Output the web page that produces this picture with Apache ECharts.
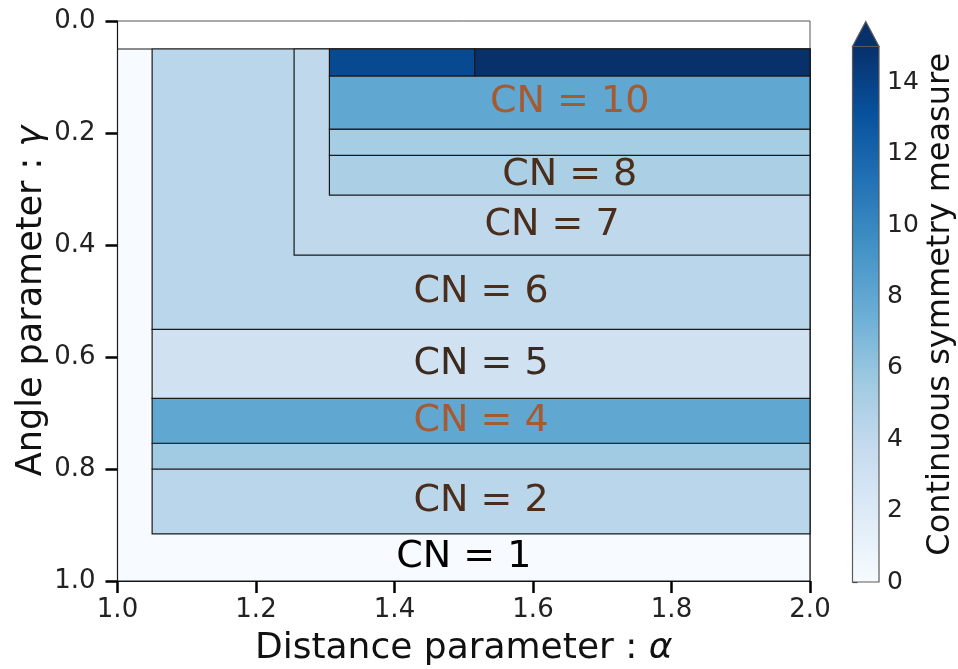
<!DOCTYPE html>
<html>
<head>
<meta charset="utf-8">
<script src="https://cdn.jsdelivr.net/npm/echarts@6/dist/echarts.min.js"></script>
<style>
  html, body { margin: 0; padding: 0; background: #ffffff; }
  #chart { width: 958px; height: 669px; }
</style>
</head>
<body>
<div id="chart"></div>
<script>
// ---- Data ----
const regionNames = ['CN = 1', 'CN = 2', 'CN = 3', 'CN = 4', 'CN = 5', 'CN = 6', 'CN = 7', 'CN = 8', 'CN = 9', 'CN = 10', 'CN = 11', 'CN = 12'];
const alphaMin = [1.0, 1.05, 1.05, 1.05, 1.05, 1.05, 1.255, 1.306, 1.306, 1.306, 1.306, 1.516];
const alphaMax = [2.0, 2.0, 2.0, 2.0, 2.0, 2.0, 2.0, 2.0, 2.0, 2.0, 1.516, 2.0];
const gammaMin = [0.05, 0.80, 0.754, 0.674, 0.5505, 0.05, 0.05, 0.24, 0.193, 0.098, 0.05, 0.05];
const gammaMax = [1.0, 0.916, 0.80, 0.754, 0.674, 0.5505, 0.418, 0.311, 0.24, 0.193, 0.098, 0.098];
const csmValue = [0.0, 4.3, 5.5, 8.0, 3.0, 4.3, 4.1, 5.0, 5.3, 8.0, 13.5, 15.0];
// label anchor (gamma centre of the visible band); null = no label
const labelGamma = [0.958, 0.858, null, 0.714, 0.612, 0.484, 0.3645, 0.2755, null, 0.145, null, null];

const alphaTicks = [1.0, 1.2, 1.4, 1.6, 1.8, 2.0];
const gammaTicks = [0.0, 0.2, 0.4, 0.6, 0.8, 1.0];
const cbarTicks = [0, 2, 4, 6, 8, 10, 12, 14];
const cbarMin = 0, cbarMax = 15;

// ---- Styles ----
const BLUES = ['#f7fbff', '#deebf7', '#c6dbef', '#9ecae1', '#6baed6', '#4292c6', '#2171b5', '#08519c', '#08306b'];
const labelColor = {
  'CN = 1': '#000000', 'CN = 2': '#4a2d1a', 'CN = 4': '#a65a30', 'CN = 5': '#3b2a1e',
  'CN = 6': '#4a2d1a', 'CN = 7': '#4a2d1a', 'CN = 8': '#4a2d1a', 'CN = 10': '#a65a30'
};
const FONT = 'DejaVu Sans';

const regionData = regionNames.map((n, i) => [alphaMin[i], alphaMax[i], gammaMin[i], gammaMax[i], csmValue[i], i]);
const labelData = [];
regionNames.forEach((n, i) => {
  if (labelGamma[i] !== null) labelData.push([(alphaMin[i] + alphaMax[i]) / 2, labelGamma[i], n]);
});

const chart = echarts.init(document.getElementById('chart'), null, { renderer: 'canvas' });

const gradStops = BLUES.map((c, i) => ({ offset: i / (BLUES.length - 1), color: c }));

const option = {
  animation: false,
  backgroundColor: '#ffffff',
  textStyle: { fontFamily: FONT },
  grid: [
    { left: 117.5, top: 21, right: 148, bottom: 88, show: true, borderColor: '#555', borderWidth: 1, backgroundColor: 'transparent', outerBoundsMode: 'none', containLabel: false },
    { left: 852.5, top: 46.5, width: 26.5, bottom: 87, outerBoundsMode: 'none', containLabel: false }
  ],
  visualMap: {
    type: 'continuous', show: false, min: cbarMin, max: cbarMax, dimension: 4, seriesIndex: 0,
    inRange: { color: BLUES }
  },
  xAxis: [
    {
      gridIndex: 0, type: 'value', min: 1.0, max: 2.0, interval: 0.2,
      name: 'Distance parameter : {i|α}', nameLocation: 'middle', nameGap: 50,
      nameTextStyle: { fontSize: 36, color: '#111', fontFamily: FONT,
        rich: { i: { fontSize: 36, fontStyle: 'italic', color: '#111', fontFamily: FONT } } },
      axisLine: { show: true, onZero: false, lineStyle: { color: '#111', width: 1.2 } },
      axisTick: { show: true, length: 12, lineStyle: { color: '#000', width: 2.5 } },
      axisLabel: { fontSize: 26, color: '#222', margin: 16, formatter: v => v.toFixed(1) },
      splitLine: { show: false }
    },
    { gridIndex: 1, type: 'value', min: 0, max: 1, show: false }
  ],
  yAxis: [
    {
      gridIndex: 0, type: 'value', min: 0, max: 1, interval: 0.2, inverse: true,
      name: 'Angle parameter : {i|γ}', nameLocation: 'middle', nameGap: 68, nameRotate: 90,
      nameMoveOverlap: false,
      nameTextStyle: { fontSize: 35, color: '#111', fontFamily: FONT,
        rich: { i: { fontSize: 35, fontStyle: 'italic', color: '#111', fontFamily: FONT } } },
      axisLine: { show: true, onZero: false, lineStyle: { color: '#111', width: 1.2 } },
      axisTick: { show: true, length: 12, lineStyle: { color: '#000', width: 2.5 } },
      axisLabel: { fontSize: 26, color: '#222', margin: 22, formatter: v => v.toFixed(1) },
      splitLine: { show: false }
    },
    {
      gridIndex: 1, type: 'value', min: cbarMin, max: cbarMax, position: 'right',
      name: 'Continuous symmetry measure', nameLocation: 'middle', nameGap: 46, nameRotate: 90,
      nameTextStyle: { fontSize: 32, color: '#111', fontFamily: FONT, padding: [0, 0, 0, 20] },
      axisLine: { show: false },
      axisTick: { show: true, length: 5, customValues: cbarTicks, lineStyle: { color: '#333', width: 1.2 } },
      axisLabel: { fontSize: 25, color: '#222', margin: 8, customValues: cbarTicks },
      splitLine: { show: false }
    }
  ],
  series: [
    {
      type: 'custom', xAxisIndex: 0, yAxisIndex: 0, clip: true,
      encode: { x: [0, 1], y: [2, 3] },
      data: regionData,
      renderItem: function (params, api) {
        const p0 = api.coord([api.value(0), api.value(2)]);
        const p1 = api.coord([api.value(1), api.value(3)]);
        return {
          type: 'rect',
          shape: { x: Math.min(p0[0], p1[0]), y: Math.min(p0[1], p1[1]), width: Math.abs(p1[0] - p0[0]), height: Math.abs(p1[1] - p0[1]) },
          style: { fill: api.visual('color'), stroke: '#1a1a1a', lineWidth: 1.2 }
        };
      }
    },
    {
      type: 'custom', xAxisIndex: 0, yAxisIndex: 0, clip: false,
      encode: { x: 0, y: 1 },
      data: labelData,
      renderItem: function (params, api) {
        const p = api.coord([api.value(0), api.value(1)]);
        const txt = labelData[params.dataIndex][2];
        return {
          type: 'text',
          x: p[0], y: p[1],
          style: { text: txt, fill: labelColor[txt] || '#000', font: '38px "DejaVu Sans"', align: 'center', verticalAlign: 'middle' }
        };
      }
    },
    {
      type: 'custom', xAxisIndex: 1, yAxisIndex: 1, clip: false,
      data: [[0, cbarMin, 1, cbarMax]],
      renderItem: function (params, api) {
        const b = api.coord([api.value(0), api.value(1)]);
        const t = api.coord([api.value(2), api.value(3)]);
        const w = t[0] - b[0];
        return {
          type: 'group',
          children: [
            {
              type: 'rect',
              shape: { x: b[0], y: t[1], width: w, height: b[1] - t[1] },
              style: { fill: new echarts.graphic.LinearGradient(0, 1, 0, 0, gradStops), stroke: '#5a5a5a', lineWidth: 1.2 }
            },
            {
              type: 'polygon',
              shape: { points: [[b[0], t[1]], [t[0], t[1]], [(b[0] + t[0]) / 2, t[1] - 25]] },
              style: { fill: BLUES[BLUES.length - 1], stroke: '#5a5a5a', lineWidth: 1.2 }
            }
          ]
        };
      }
    }
  ]
};
chart.setOption(option);
</script>
</body>
</html>
